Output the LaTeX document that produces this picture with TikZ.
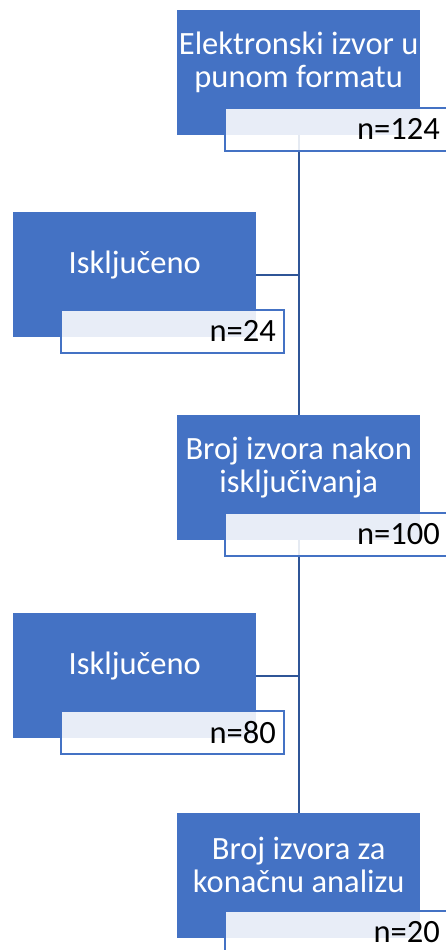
\documentclass[tikz,border=0pt]{standalone}
\usepackage{fontspec}
\setmainfont{Carlito}
\usetikzlibrary{positioning,backgrounds}
\definecolor{boxblue}{RGB}{68,114,196}
\definecolor{linkblue}{RGB}{47,85,151}

\begin{document}
\begin{tikzpicture}[x=1pt,y=-1pt]
	\tikzset{
		bluebox/.style={fill=boxblue, minimum width=243pt, minimum height=125pt, inner sep=0pt, anchor=north west},
		boxtext/.style={text=white, align=center, inner sep=0pt, font=\fontsize{32.5}{33}\selectfont},
		countbox/.style={draw=boxblue, line width=1.5pt, fill=white, fill opacity=0.88, text opacity=1,
			text width=207pt, minimum height=43pt, inner xsep=8pt, inner ysep=0pt, align=right,
			anchor=north west, font=\fontsize{32.5}{33}\selectfont},
		link/.style={draw=linkblue, line width=2pt}
	}
	\useasboundingbox (0,0) rectangle (446,950);
	\clip (0,0) rectangle (446,950);
	% main column
	\node[bluebox] (src) at (177,10) {};
	\node[boxtext] (srctxt) at ([yshift=-52pt]src.north) {Elektronski izvor u\\punom formatu};
	\node[countbox] (srcn) at ([xshift=47pt,yshift=-97pt]src.north west) {n=124};
	\node[bluebox] (mid) at (177,415) {};
	\node[boxtext] (midtxt) at ([yshift=-52pt]mid.north) {Broj izvora nakon\\isključivanja};
	\node[countbox] (midn) at ([xshift=47pt,yshift=-97pt]mid.north west) {n=100};
	\node[bluebox] (fin) at (177,813) {};
	\node[boxtext] (fintxt) at ([yshift=-52pt]fin.north) {Broj izvora za\\konačnu analizu};
	\node[countbox] (finn) at ([xshift=47pt,yshift=-97pt]fin.north west) {n=20};
	% excluded, left column
	\node[bluebox] (exa) at (13,212) {};
	\node[boxtext] (exatxt) at ([yshift=-53pt]exa.north) {Isključeno};
	\node[countbox] (exan) at ([xshift=47pt,yshift=-97pt]exa.north west) {n=24};
	\node[bluebox] (exb) at (13,613) {};
	\node[boxtext] (exbtxt) at ([yshift=-53pt]exb.north) {Isključeno};
	\node[countbox] (exbn) at ([xshift=47pt,yshift=-97pt]exb.north west) {n=80};
	\begin{scope}[on background layer]
		\draw[link] (src.south) -- (mid.north);
		\draw[link] (exa.east) -- (exa.east -| src.south);
		\draw[link] (mid.south) -- (fin.north);
		\draw[link] (exb.east) -- (exb.east -| mid.south);
	\end{scope}
\end{tikzpicture}
\end{document}
